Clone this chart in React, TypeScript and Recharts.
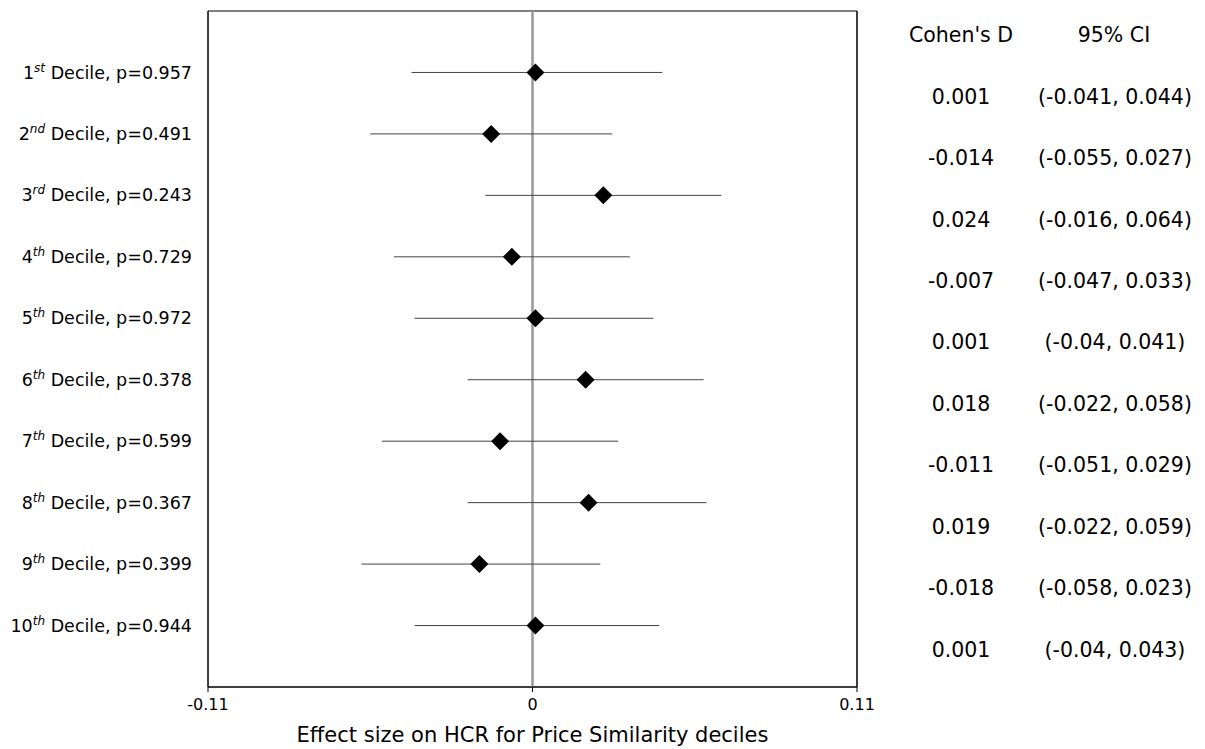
import {
  ScatterChart,
  Scatter,
  XAxis,
  YAxis,
  ErrorBar,
  ReferenceLine,
  ReferenceArea,
  Label,
} from 'recharts';

// rows, top to bottom
const deciles = [1, 2, 3, 4, 5, 6, 7, 8, 9, 10];
const suffixes = ['st', 'nd', 'rd', 'th', 'th', 'th', 'th', 'th', 'th', 'th'];
const pValues = [0.957, 0.491, 0.243, 0.729, 0.972, 0.378, 0.599, 0.367, 0.399, 0.944];
const cohensD = [0.001, -0.014, 0.024, -0.007, 0.001, 0.018, -0.011, 0.019, -0.018, 0.001];
const ciLow = [-0.041, -0.055, -0.016, -0.047, -0.04, -0.022, -0.051, -0.022, -0.058, -0.04];
const ciHigh = [0.044, 0.027, 0.064, 0.033, 0.041, 0.058, 0.029, 0.059, 0.023, 0.043];
const xTicks = [-0.11, 0, 0.11];

const FONT = '"DejaVu Sans", sans-serif';

const data = deciles.map((row, i) => ({
  row,
  d: cohensD[i],
  err: [cohensD[i] - ciLow[i], ciHigh[i] - cohensD[i]],
}));

const Diamond = (props: any) => {
  const { cx, cy } = props;
  const r = 9;
  return (
    <polygon
      points={`${cx},${cy - r} ${cx + r},${cy} ${cx},${cy + r} ${cx - r},${cy}`}
      fill="#000"
    />
  );
};

const NoMark = () => <g />;

const RowLabel = (props: any) => {
  const { x, y, payload } = props;
  const i = deciles.indexOf(payload.value);
  if (i < 0) return null;
  return (
    <text x={x} y={y} dy="0.35em" textAnchor="end" fontFamily={FONT} fontSize={17.5} fill="#000">
      <tspan>{deciles[i]}</tspan>
      <tspan fontSize={12} fontStyle="italic" dy={-7}>{suffixes[i]}</tspan>
      <tspan dy={7}>{` Decile, p=${pValues[i]}`}</tspan>
    </text>
  );
};

// right-hand table: header on tick 0, one line per decile below its row
const TableCell = (props: any) => {
  const { x, y, payload } = props;
  const v = payload.value;
  const ty = y + 24;
  const common = { fontFamily: FONT, fontSize: 20.5, fill: '#000', textAnchor: 'middle' as const, dy: '0.35em' };
  if (v === 0) {
    return (
      <g>
        <text x={x + 104} y={ty} {...common}>Cohen's D</text>
        <text x={x + 257} y={ty} {...common}>95% CI</text>
      </g>
    );
  }
  const i = deciles.indexOf(v);
  if (i < 0) return null;
  return (
    <g>
      <text x={x + 104} y={ty} {...common}>{String(cohensD[i])}</text>
      <text x={x + 258} y={ty} {...common}>{`(${ciLow[i]}, ${ciHigh[i]})`}</text>
    </g>
  );
};

export default function App() {
  return (
    <ScatterChart
      width={1190}
      height={740}
      margin={{ top: 3, right: 0, bottom: 0, left: 0 }}
      style={{ fontFamily: FONT }}
    >
      <XAxis
        type="number"
        dataKey="d"
        domain={[-0.11, 0.11]}
        ticks={xTicks}
        tickFormatter={(v: number) => String(v)}
        height={61}
        tickSize={5}
        tickMargin={7}
        stroke="#000"
        tick={{ fontSize: 16, fill: '#000', fontFamily: FONT }}
      >
        <Label
          value="Effect size on HCR for Price Similarity deciles"
          position="insideBottom"
          offset={6}
          style={{ fontSize: 21, fill: '#000', fontFamily: FONT }}
        />
      </XAxis>
      <YAxis
        yAxisId="rows"
        type="number"
        dataKey="row"
        domain={[0, 11]}
        reversed
        ticks={deciles}
        width={200}
        tickSize={0}
        tickMargin={16}
        axisLine={{ stroke: '#000' }}
        tick={<RowLabel />}
      />
      <YAxis
        yAxisId="table"
        orientation="right"
        type="number"
        dataKey="row"
        domain={[0, 11]}
        allowDataOverflow
        reversed
        ticks={[0, ...deciles]}
        interval={0}
        width={341}
        tickSize={0}
        tickMargin={0}
        axisLine={{ stroke: '#000' }}
        tick={<TableCell />}
      />
      <ReferenceArea
        yAxisId="rows"
        x1={-0.11}
        x2={0.11}
        y1={0}
        y2={11}
        fill="none"
        stroke="#000"
        strokeWidth={1}
      />
      <ReferenceLine yAxisId="rows" x={0} stroke="#999" strokeWidth={2.5} />
      <Scatter yAxisId="table" data={data} shape={<NoMark />} isAnimationActive={false} />
      <Scatter yAxisId="rows" data={data} shape={<Diamond />} isAnimationActive={false}>
        <ErrorBar dataKey="err" direction="x" width={0} stroke="#444" strokeWidth={1} isAnimationActive={false} />
      </Scatter>
    </ScatterChart>
  );
}
